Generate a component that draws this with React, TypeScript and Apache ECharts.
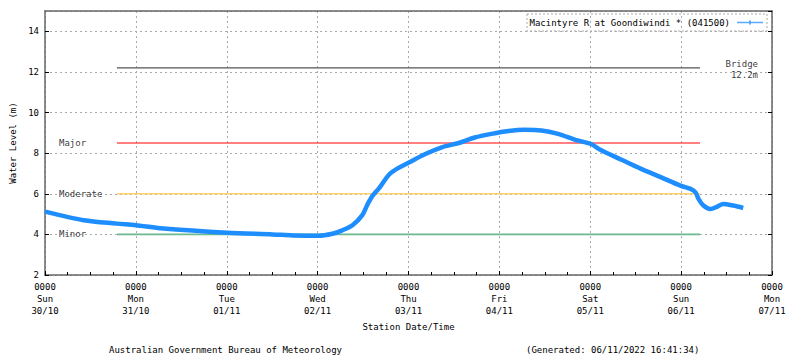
import React, { useEffect, useRef } from "react";
import * as echarts from "echarts";

// ---- data ----
const seriesName = "Macintyre R at Goondiwindi * (041500)";
// hours since Sun 30/10 00:00
const hours = [
  0, 10.2, 18.9, 24, 30.5, 48.1, 60.1, 65.4, 72.2, 75.9, 78.5, 81.2, 83.8, 85.1,
  86.4, 88.3, 90.9, 93.5, 96.1, 100.3, 104.8, 109.3, 113.5, 117.9, 122.4, 126.6,
  131.1, 135.5, 139.7, 141.6, 144.2, 146.8, 152.1, 157.3, 162.6, 167.8, 170.5,
  171.8, 172.6, 173.9, 175.7, 177.6, 179.1, 181.8, 184.4,
];
const levels = [
  5.12, 4.7, 4.53, 4.45, 4.3, 4.08, 4.0, 3.95, 3.93, 4.03, 4.2, 4.45, 4.95, 5.45,
  5.87, 6.29, 6.95, 7.29, 7.54, 7.95, 8.29, 8.5, 8.77, 8.95, 9.09, 9.15, 9.12,
  8.95, 8.68, 8.58, 8.45, 8.15, 7.69, 7.24, 6.82, 6.4, 6.24, 6.07, 5.75, 5.42,
  5.25, 5.37, 5.5, 5.42, 5.3,
];

const dayNames = ["Sun", "Mon", "Tue", "Wed", "Thu", "Fri", "Sat", "Sun", "Mon"];
const dayDates = ["30/10", "31/10", "01/11", "02/11", "03/11", "04/11", "05/11", "06/11", "07/11"];
const timeLabel = "0000";

const thresholdNames = ["Bridge", "Major", "Moderate", "Minor"];
const thresholdLevels = [12.2, 8.5, 6, 4];
const thresholdStartHour = 19;
const thresholdEndHour = 173;

const footerLeft = "Australian Government Bureau of Meteorology";
const footerRight = "(Generated: 06/11/2022 16:41:34)";

// ---- styles ----
const FONT = "DejaVu Sans Mono";
const thresholdColors: Record<string, string> = {
  Bridge: "#555555",
  Major: "#ff0000",
  Moderate: "#ffd070",
  Minor: "#6cb88f",
};
const thresholdWidths: Record<string, number> = {
  Bridge: 1.3,
  Major: 1,
  Moderate: 1.6,
  Minor: 1.6,
};
const dotted = { type: [2, 3] as any, color: "#aaaaaa", width: 1 };
const legendIcon =
  "path://M0,4.2 L12,4.2 L12,3 L14,3 L14,4.2 L26,4.2 L26,5.8 L14,5.8 L14,7 L12,7 L12,5.8 L0,5.8 Z";

export default function App() {
  const ref = useRef<HTMLDivElement>(null);
  useEffect(() => {
    if (!ref.current) return;
    const chart = echarts.init(ref.current, undefined, { renderer: "svg" });

    const curve = hours.map((h, i) => [h, levels[i]]);
    const thresholdSeries = thresholdNames.map((n, i) => ({
      type: "line",
      name: n,
      data: [
        [thresholdStartHour, thresholdLevels[i]],
        [thresholdEndHour, thresholdLevels[i]],
      ],
      symbol: "none",
      silent: true,
      z: 2,
      lineStyle: { color: thresholdColors[n], width: thresholdWidths[n] },
      animation: false,
    }));

    const leftLabels = thresholdNames
      .filter((n) => n !== "Bridge")
      .map((n) => ({ name: n, value: [3.7, thresholdLevels[thresholdNames.indexOf(n)]] }));
    const bridgeIdx = thresholdNames.indexOf("Bridge");

    chart.setOption({
      animation: false,
      textStyle: { fontFamily: FONT },
      grid: { left: 41, right: 28, top: 11, bottom: 83, containLabel: false },
      legend: {
        data: [{ name: seriesName, icon: legendIcon, itemStyle: { color: "#5aa9ff" } }],
        right: 37,
        top: 18,
        padding: 0,
        align: "right",
        itemWidth: 26,
        itemHeight: 9,
        itemGap: 0,
        textStyle: { fontFamily: FONT, fontSize: 9, color: "#000", padding: [0, 2, 0, 0] },
      },
      xAxis: [
        {
          type: "value",
          min: 0,
          max: 192,
          interval: 24,
          position: "bottom",
          name: "Station Date/Time",
          nameLocation: "middle",
          nameGap: 47,
          nameTextStyle: { fontFamily: FONT, fontSize: 9, color: "#000" },
          axisLine: { show: true, onZero: false, lineStyle: { color: "#666", width: 1.5 } },
          axisTick: { show: true, inside: true, length: 4, lineStyle: { color: "#000" } },
          minorTick: { show: true, splitNumber: 4, length: 3, lineStyle: { color: "#000" } },
          splitLine: { show: true, lineStyle: dotted },
          axisLabel: {
            margin: 6,
            fontFamily: FONT,
            fontSize: 9,
            lineHeight: 12,
            color: "#000",
            formatter: (v: number) => {
              const i = Math.round(v / 24);
              return `${timeLabel}\n${dayNames[i]}\n${dayDates[i]}`;
            },
          },
        },
        {
          type: "value",
          min: 0,
          max: 192,
          position: "top",
          axisLine: { show: true, onZero: false, lineStyle: { color: "#666", width: 1.5 } },
          axisTick: { show: false },
          axisLabel: { show: false },
          splitLine: { show: false },
        },
      ],
      yAxis: [
        {
          type: "value",
          min: 2,
          max: 15,
          interval: 2,
          position: "left",
          name: "Water Level (m)",
          nameLocation: "middle",
          nameGap: 28,
          nameTextStyle: { fontFamily: FONT, fontSize: 9, color: "#000" },
          axisLine: { show: true, onZero: false, lineStyle: { color: "#666", width: 1.5 } },
          axisTick: { show: true, inside: true, length: 4, lineStyle: { color: "#000" } },
          splitLine: { show: true, lineStyle: dotted },
          axisLabel: {
            margin: 6,
            showMaxLabel: false,
            fontFamily: FONT,
            fontSize: 9,
            color: "#000",
          },
        },
        {
          type: "value",
          min: 2,
          max: 15,
          interval: 2,
          position: "right",
          axisLine: { show: true, onZero: false, lineStyle: { color: "#666", width: 1.5 } },
          axisTick: { show: true, inside: true, length: 4, lineStyle: { color: "#000" } },
          axisLabel: { show: false },
          splitLine: { show: false },
        },
      ],
      series: [
        ...thresholdSeries,
        {
          type: "scatter",
          name: "labels",
          silent: true,
          symbolSize: 1,
          itemStyle: { color: "rgba(0,0,0,0)" },
          data: leftLabels,
          z: 3,
          label: {
            show: true,
            position: "inside",
            align: "left",
            verticalAlign: "middle",
            formatter: "{b}",
            fontFamily: FONT,
            fontSize: 9,
            color: "#000",
          },
        },
        {
          type: "scatter",
          name: "bridgeLabel",
          silent: true,
          symbolSize: 1,
          itemStyle: { color: "rgba(0,0,0,0)" },
          data: [{ name: "Bridge", value: [188.3, thresholdLevels[bridgeIdx]] }],
          z: 3,
          label: {
            show: true,
            position: "inside",
            align: "right",
            verticalAlign: "middle",
            offset: [0, 2],
            lineHeight: 11,
            formatter: () => `Bridge\n${thresholdLevels[bridgeIdx]}m`,
            fontFamily: FONT,
            fontSize: 9,
            color: "#000",
          },
        },
        {
          type: "line",
          name: seriesName,
          data: curve,
          smooth: 0.3,
          symbol: "circle",
          symbolSize: 3,
          showSymbol: false,
          z: 5,
          lineStyle: { color: "#1e8eff", width: 4.5 },
          itemStyle: { color: "#1e8eff" },
        },
      ],
      graphic: [
        {
          type: "rect",
          shape: { x: 527, y: 14, width: 240, height: 17 },
          style: { fill: "none", stroke: "#aaaaaa", lineWidth: 1, lineDash: [2, 2] },
          z: 10,
        },
        {
          type: "text",
          left: 109,
          top: 345,
          style: { text: footerLeft, font: `9px '${FONT}'`, fill: "#000" },
        },
        {
          type: "text",
          left: 526,
          top: 345,
          style: { text: footerRight, font: `9px '${FONT}'`, fill: "#000" },
        },
      ],
    });
    return () => chart.dispose();
  }, []);
  return <div ref={ref} style={{ width: 800, height: 358, position: "absolute", left: 0, top: 0, background: "#fff" }} />;
}
